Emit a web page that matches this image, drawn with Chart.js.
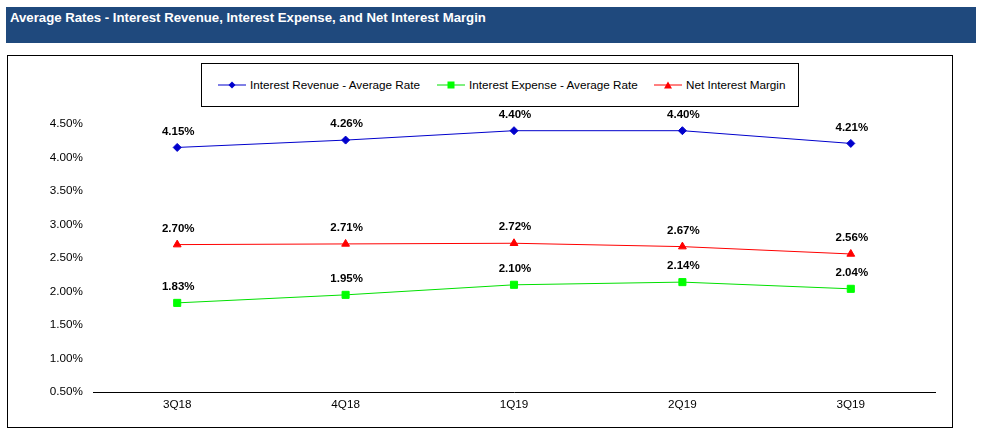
<!DOCTYPE html>
<html>
<head>
<meta charset="utf-8">
<script src="https://cdn.jsdelivr.net/npm/chart.js@4/dist/chart.umd.min.js"></script>
<style>
  body { margin: 0; background: #fff; font-family: "Liberation Sans", Arial, sans-serif; }
  #titleBar { position: absolute; left: 6px; top: 7px; width: 970px; height: 36px; background: #1F497D; }
  #titleBar span { position: absolute; left: 4px; top: 3px; color: #fff; font-weight: bold; font-size: 13.2px; }
  #frame { position: absolute; left: 7px; top: 55px; width: 944px; height: 371px; border: 1px solid #000; }
  #legend { position: absolute; left: 201px; top: 63px; width: 596px; height: 42px; border: 1px solid #000; background: #fff; }
  .item { position: absolute; top: 14px; font-size: 11.7px; color: #000; white-space: nowrap; }
  .item svg { vertical-align: middle; margin-right: 4px; position: relative; top: -1px; }
  #wrap { position: absolute; left: 0; top: 0; width: 982px; height: 438px; }
</style>
</head>
<body>
<div id="titleBar"><span>Average Rates - Interest Revenue, Interest Expense, and Net Interest Margin</span></div>
<div id="frame"></div>
<div id="legend">
  <div class="item" style="left:16px">
    <svg width="28" height="8"><line x1="0" y1="4" x2="28" y2="4" stroke="#0000CC" stroke-width="1"/><polygon points="14,0.5 17.5,4 14,7.5 10.5,4" fill="#0000CC"/></svg>Interest Revenue - Average Rate
  </div>
  <div class="item" style="left:235px">
    <svg width="28" height="8"><line x1="0" y1="4" x2="28" y2="4" stroke="#00E000" stroke-width="1"/><rect x="10.5" y="0.5" width="7" height="7" fill="#00FF00"/></svg>Interest Expense - Average Rate
  </div>
  <div class="item" style="left:452px">
    <svg width="28" height="8"><line x1="0" y1="4" x2="28" y2="4" stroke="#FF0000" stroke-width="1"/><polygon points="14,0.5 18,7.5 10,7.5" fill="#FF0000"/></svg>Net Interest Margin
  </div>
</div>
<div id="wrap"><canvas id="chart"></canvas></div>
<script>
// categories and series (percent)
const quarters = ['3Q18', '4Q18', '1Q19', '2Q19', '3Q19'];
const revenueRate = [4.15, 4.26, 4.40, 4.40, 4.21];
const expenseRate = [1.83, 1.95, 2.10, 2.14, 2.04];
const netMargin = [2.70, 2.71, 2.72, 2.67, 2.56];

const FONT = '"Liberation Sans", Arial, sans-serif';

// draws the bold value above every point
const valueLabels = {
    id: 'valueLabels',
    afterDatasetsDraw(chart) {
        const ctx = chart.ctx;
        ctx.save();
        ctx.font = 'bold 11.5px ' + FONT;
        ctx.fillStyle = '#000';
        ctx.textAlign = 'center';
        ctx.textBaseline = 'middle';
        chart.data.datasets.forEach((ds, i) => {
            chart.getDatasetMeta(i).data.forEach((pt, j) => {
                ctx.fillText(ds.data[j].toFixed(2) + '%', pt.x + 1, pt.y - 16);
            });
        });
        ctx.restore();
    }
};

new Chart(document.getElementById('chart'), {
    type: 'line',
    data: {
        labels: quarters,
        datasets: [
            {
                label: 'Interest Revenue - Average Rate',
                data: revenueRate,
                borderColor: '#0000CC',
                backgroundColor: '#0000CC',
                borderWidth: 1,
                pointStyle: 'rectRot',
                pointRadius: 4,
                pointBorderWidth: 1
            },
            {
                label: 'Interest Expense - Average Rate',
                data: expenseRate,
                borderColor: '#00E000',
                backgroundColor: '#00FF00',
                pointBorderColor: '#00FF00',
                borderWidth: 1,
                pointStyle: 'rect',
                pointRadius: 5,
                pointBorderWidth: 1
            },
            {
                label: 'Net Interest Margin',
                data: netMargin,
                borderColor: '#FF0000',
                backgroundColor: '#FF0000',
                borderWidth: 1,
                pointStyle: 'triangle',
                pointRadius: 4.5,
                pointBorderWidth: 1
            }
        ]
    },
    options: {
        responsive: true,
        maintainAspectRatio: false,
        animation: false,
        layout: {
            padding: { left: 28, right: 47, top: 124, bottom: 16 }
        },
        scales: {
            x: {
                offset: true,
                grid: { display: false, drawTicks: false },
                border: { display: true, color: '#000', width: 1 },
                ticks: { color: '#000', font: { family: FONT, size: 11.7 }, padding: 6 },
                afterFit(scale) { scale.height = 30; }
            },
            y: {
                min: 0.5,
                max: 4.5,
                grid: { display: false, drawTicks: false },
                border: { display: false },
                ticks: {
                    stepSize: 0.5,
                    color: '#000',
                    padding: 10,
                    font: { family: FONT, size: 11.7 },
                    callback: v => v.toFixed(2) + '%'
                },
                afterFit(scale) { scale.width = 65; }
            }
        },
        plugins: {
            legend: { display: false },
            tooltip: { enabled: false }
        }
    },
    plugins: [valueLabels]
});
</script>
</body>
</html>
